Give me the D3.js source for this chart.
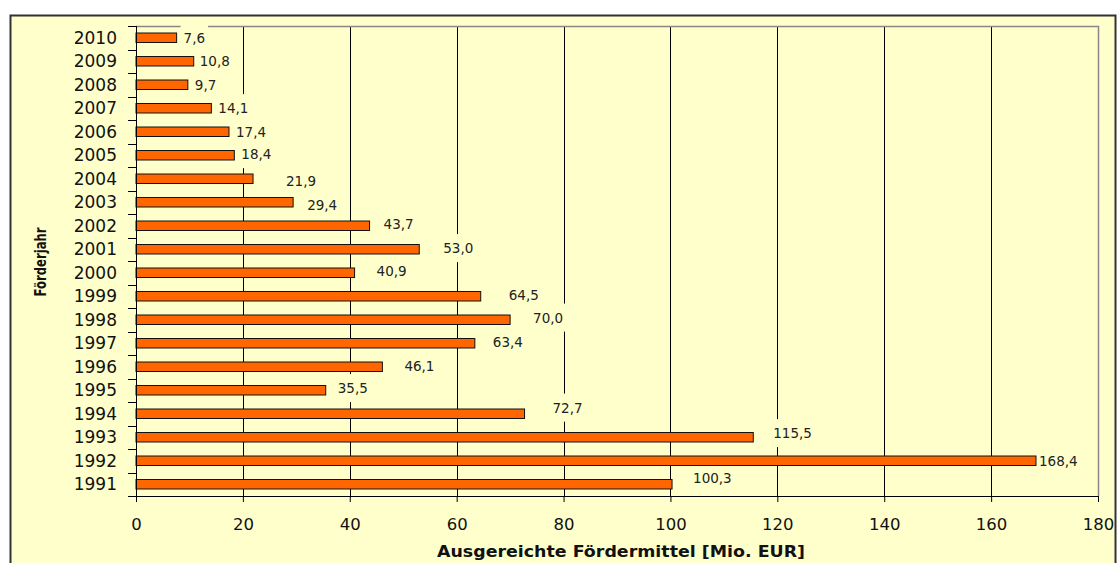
<!DOCTYPE html>
<html>
<head>
<meta charset="utf-8">
<script src="https://cdn.jsdelivr.net/npm/d3@7"></script>
<style>
  body { margin: 0; background: #fff; }
  text { font-family: "DejaVu Sans", Verdana, sans-serif; }
</style>
</head>
<body>
<script>
var width = 1117,
    height = 563;

// data (1991 .. 2010)
var years = [1991,1992,1993,1994,1995,1996,1997,1998,1999,2000,
             2001,2002,2003,2004,2005,2006,2007,2008,2009,2010];
var values = [100.3,168.4,115.5,72.7,35.5,46.1,63.4,70.0,64.5,40.9,
              53.0,43.7,29.4,21.9,18.4,17.4,14.1,9.7,10.8,7.6];
var xTicks = [0,20,40,60,80,100,120,140,160,180];

// label nudges (px) as placed in the original, same order as years
var labelDx = [21,3,20,28,12,22,18,23,28,22,24,14,14,33,7,7,7,7,6,7];
var labelDy = [-6,0,-4,-6,-2,-1,-1,-2,-1,-2,-1,-2,3,2,-1,0,0,0,0,0];

var plot = {left: 136, right: 1098, top: 26, bottom: 496};

var svg = d3.select("body").append("svg")
    .attr("width", width)
    .attr("height", height);

svg.append("rect")
    .attr("width", width).attr("height", height)
    .attr("fill", "#fff");

// chart area
svg.append("rect")
    .attr("x", 10.5).attr("y", 15.5)
    .attr("width", 1105).attr("height", 570)
    .attr("fill", "#FFFFCC")
    .attr("stroke", "#333")
    .attr("stroke-width", 2);

var x = d3.scaleLinear().domain([0, 180]).range([plot.left, plot.right]);

var y = d3.scaleBand()
    .domain(years.slice().reverse())
    .range([plot.top, plot.bottom])
    .paddingInner(0.596)
    .paddingOuter(0.298);

var fmt = function(v) { return d3.format(".1f")(v).replace(".", ","); };

var gridG = svg.append("g");
var boxG = svg.append("g");
var barG = svg.append("g");
var labelG = svg.append("g");
var axisG = svg.append("g");

// grid lines
gridG.selectAll("line")
  .data(xTicks.filter(function(d) { return d > 0 && d < 180; }))
  .enter().append("line")
    .attr("x1", function(d) { return Math.round(x(d)) + 0.5; })
    .attr("x2", function(d) { return Math.round(x(d)) + 0.5; })
    .attr("y1", plot.top)
    .attr("y2", plot.bottom)
    .attr("stroke", "#000")
    .attr("stroke-width", 1);

// plot border (top + right) grey
gridG.append("path")
    .attr("d", "M" + plot.left + "," + (plot.top + 0.5) + "H" + (plot.right + 0.5) + "V" + plot.bottom)
    .attr("fill", "none")
    .attr("stroke", "#888")
    .attr("stroke-width", 1.5);

// bars
barG.selectAll("rect")
  .data(years)
  .enter().append("rect")
    .attr("x", x(0))
    .attr("y", function(d) { return y(d); })
    .attr("width", function(d, i) { return x(values[i]) - x(0); })
    .attr("height", y.bandwidth())
    .attr("fill", "#FF6600")
    .attr("stroke", "#111")
    .attr("stroke-width", 1);

// value labels
var labels = labelG.selectAll("text")
  .data(years)
  .enter().append("text")
    .attr("x", function(d, i) { return x(values[i]) + labelDx[i]; })
    .attr("y", function(d, i) { return y(d) + y.bandwidth() / 2 + labelDy[i]; })
    .attr("dy", "0.36em")
    .attr("font-size", 13.5)
    .attr("fill", "#222")
    .text(function(d, i) { return fmt(values[i]); });

labels.each(function() {
  var b = this.getBBox();
  boxG.append("rect")
    .attr("x", b.x - 3)
    .attr("y", b.y + b.height / 2 - 14)
    .attr("width", b.width + 6)
    .attr("height", 28)
    .attr("fill", "#FFFFCC");
});

// x axis
var xAxis = axisG.append("g")
    .attr("transform", "translate(0," + plot.bottom + ")")
    .call(d3.axisBottom(x).tickValues(xTicks).tickSize(6).tickSizeOuter(0).tickFormat(d3.format("d")));
xAxis.select(".domain").attr("stroke", "#000");
xAxis.selectAll(".tick line").attr("stroke", "#000");
xAxis.selectAll(".tick text")
    .attr("font-family", "DejaVu Sans, Verdana, sans-serif")
    .attr("font-size", 16.5)
    .attr("fill", "#111")
    .attr("y", 28)
    .attr("dy", "0.36em");

// y axis
var yAxisG = axisG.append("g");
yAxisG.append("line")
    .attr("x1", plot.left + 0.5).attr("x2", plot.left + 0.5)
    .attr("y1", plot.top).attr("y2", plot.bottom + 6)
    .attr("stroke", "#000");
yAxisG.selectAll("line.tick")
  .data(d3.range(years.length + 1))
  .enter().append("line")
    .attr("class", "tick")
    .attr("x1", plot.left - 8).attr("x2", plot.left)
    .attr("y1", function(k) { return Math.round(plot.top + k * y.step()) + 0.5; })
    .attr("y2", function(k) { return Math.round(plot.top + k * y.step()) + 0.5; })
    .attr("stroke", "#000");
yAxisG.selectAll("text")
  .data(years)
  .enter().append("text")
    .attr("x", 117)
    .attr("y", function(d) { return y(d) + y.bandwidth() / 2; })
    .attr("dy", "0.36em")
    .attr("text-anchor", "end")
    .attr("font-size", 17)
    .attr("fill", "#111")
    .text(function(d) { return d; });

// axis titles
svg.append("text")
    .attr("x", 621)
    .attr("y", 551)
    .attr("dy", "0.36em")
    .attr("text-anchor", "middle")
    .attr("font-size", 16)
    .attr("font-weight", "bold")
    .attr("textLength", 368)
    .attr("lengthAdjust", "spacingAndGlyphs")
    .attr("fill", "#111")
    .text("Ausgereichte Fördermittel [Mio. EUR]");

svg.append("text")
    .attr("transform", "translate(40,262) rotate(-90)")
    .attr("dy", "0.36em")
    .attr("text-anchor", "middle")
    .attr("font-size", 16)
    .attr("font-weight", "bold")
    .attr("textLength", 69)
    .attr("lengthAdjust", "spacingAndGlyphs")
    .attr("fill", "#111")
    .text("Förderjahr");
</script>
</body>
</html>
